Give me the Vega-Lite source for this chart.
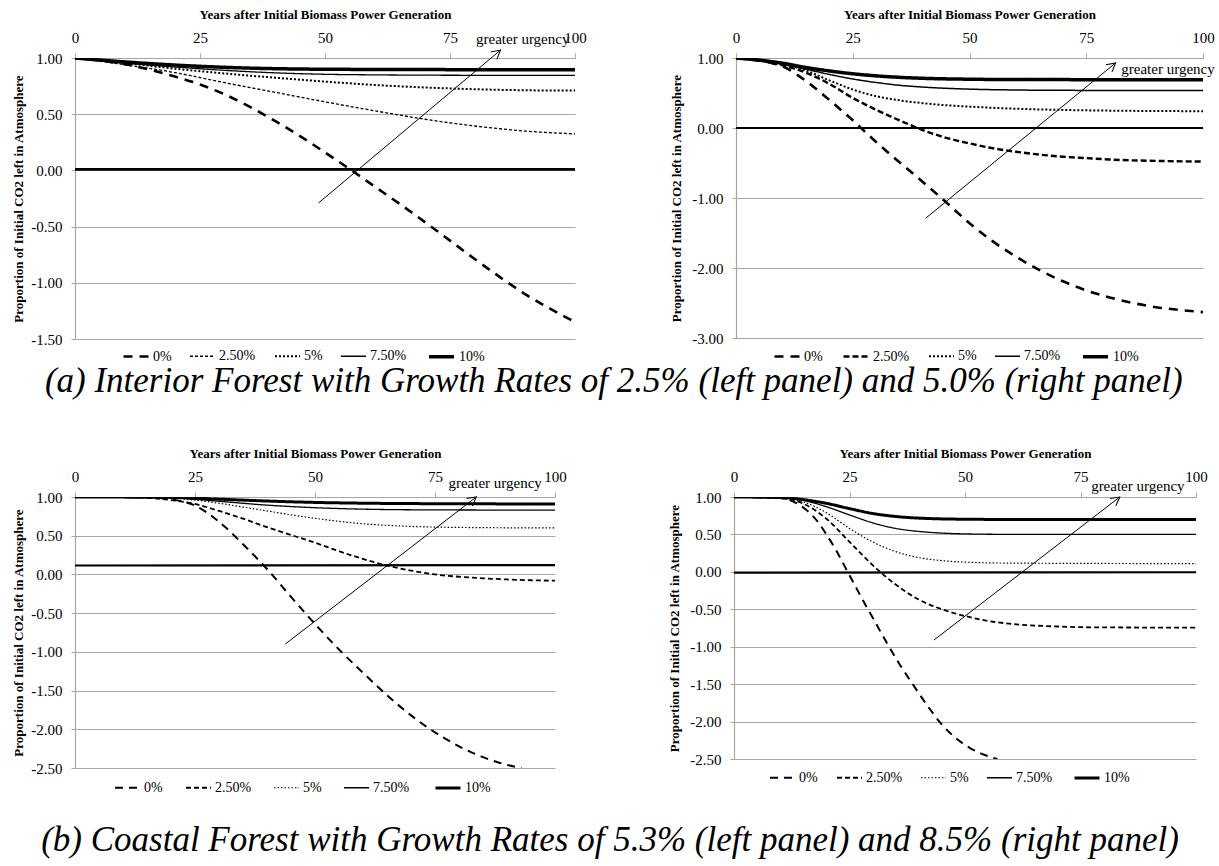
{
"$schema": "https://vega.github.io/schema/vega-lite/v6.json",
"background": "white",
"padding": {"left": 12, "top": 8, "right": 5, "bottom": 5},
"datasets": {
"curves": [
{"panel":"a1","rate":"0%","x":0,"y":1},{"panel":"a1","rate":"0%","x":5,"y":0.98},{"panel":"a1","rate":"0%","x":10,"y":0.945},{"panel":"a1","rate":"0%","x":15,"y":0.895},{"panel":"a1","rate":"0%","x":20,"y":0.835},{"panel":"a1","rate":"0%","x":25,"y":0.765},{"panel":"a1","rate":"0%","x":30,"y":0.675},{"panel":"a1","rate":"0%","x":35,"y":0.565},{"panel":"a1","rate":"0%","x":40,"y":0.44},{"panel":"a1","rate":"0%","x":45,"y":0.305},{"panel":"a1","rate":"0%","x":50,"y":0.16},{"panel":"a1","rate":"0%","x":55,"y":0.01},{"panel":"a1","rate":"0%","x":60,"y":-0.145},{"panel":"a1","rate":"0%","x":65,"y":-0.3},{"panel":"a1","rate":"0%","x":70,"y":-0.46},{"panel":"a1","rate":"0%","x":75,"y":-0.625},{"panel":"a1","rate":"0%","x":80,"y":-0.79},{"panel":"a1","rate":"0%","x":85,"y":-0.95},{"panel":"a1","rate":"0%","x":90,"y":-1.1},{"panel":"a1","rate":"0%","x":95,"y":-1.23},{"panel":"a1","rate":"0%","x":100,"y":-1.35},
{"panel":"a1","rate":"2.50%","x":0,"y":1},{"panel":"a1","rate":"2.50%","x":10,"y":0.94},{"panel":"a1","rate":"2.50%","x":20,"y":0.87},{"panel":"a1","rate":"2.50%","x":30,"y":0.78},{"panel":"a1","rate":"2.50%","x":40,"y":0.695},{"panel":"a1","rate":"2.50%","x":50,"y":0.61},{"panel":"a1","rate":"2.50%","x":60,"y":0.53},{"panel":"a1","rate":"2.50%","x":70,"y":0.455},{"panel":"a1","rate":"2.50%","x":80,"y":0.395},{"panel":"a1","rate":"2.50%","x":90,"y":0.35},{"panel":"a1","rate":"2.50%","x":100,"y":0.325},
{"panel":"a1","rate":"5%","x":0,"y":1},{"panel":"a1","rate":"5%","x":10,"y":0.955},{"panel":"a1","rate":"5%","x":20,"y":0.905},{"panel":"a1","rate":"5%","x":30,"y":0.862},{"panel":"a1","rate":"5%","x":40,"y":0.825},{"panel":"a1","rate":"5%","x":50,"y":0.79},{"panel":"a1","rate":"5%","x":60,"y":0.76},{"panel":"a1","rate":"5%","x":70,"y":0.738},{"panel":"a1","rate":"5%","x":80,"y":0.722},{"panel":"a1","rate":"5%","x":90,"y":0.713},{"panel":"a1","rate":"5%","x":100,"y":0.71},
{"panel":"a1","rate":"7.50%","x":0,"y":1},{"panel":"a1","rate":"7.50%","x":10,"y":0.955},{"panel":"a1","rate":"7.50%","x":20,"y":0.92},{"panel":"a1","rate":"7.50%","x":30,"y":0.89},{"panel":"a1","rate":"7.50%","x":40,"y":0.868},{"panel":"a1","rate":"7.50%","x":50,"y":0.855},{"panel":"a1","rate":"7.50%","x":60,"y":0.85},{"panel":"a1","rate":"7.50%","x":80,"y":0.846},{"panel":"a1","rate":"7.50%","x":100,"y":0.845},
{"panel":"a1","rate":"10%","x":0,"y":1},{"panel":"a1","rate":"10%","x":10,"y":0.965},{"panel":"a1","rate":"10%","x":20,"y":0.937},{"panel":"a1","rate":"10%","x":30,"y":0.917},{"panel":"a1","rate":"10%","x":40,"y":0.905},{"panel":"a1","rate":"10%","x":50,"y":0.9},{"panel":"a1","rate":"10%","x":70,"y":0.897},{"panel":"a1","rate":"10%","x":100,"y":0.895},

{"panel":"a2","rate":"0%","x":0,"y":1},{"panel":"a2","rate":"0%","x":5,"y":0.96},{"panel":"a2","rate":"0%","x":10,"y":0.88},{"panel":"a2","rate":"0%","x":15,"y":0.67},{"panel":"a2","rate":"0%","x":20,"y":0.4},{"panel":"a2","rate":"0%","x":25,"y":0.11},{"panel":"a2","rate":"0%","x":30,"y":-0.2},{"panel":"a2","rate":"0%","x":35,"y":-0.49},{"panel":"a2","rate":"0%","x":40,"y":-0.77},{"panel":"a2","rate":"0%","x":45,"y":-1.06},{"panel":"a2","rate":"0%","x":50,"y":-1.36},{"panel":"a2","rate":"0%","x":55,"y":-1.62},{"panel":"a2","rate":"0%","x":60,"y":-1.84},{"panel":"a2","rate":"0%","x":65,"y":-2.03},{"panel":"a2","rate":"0%","x":70,"y":-2.19},{"panel":"a2","rate":"0%","x":75,"y":-2.32},{"panel":"a2","rate":"0%","x":80,"y":-2.42},{"panel":"a2","rate":"0%","x":85,"y":-2.5},{"panel":"a2","rate":"0%","x":90,"y":-2.56},{"panel":"a2","rate":"0%","x":95,"y":-2.6},{"panel":"a2","rate":"0%","x":100,"y":-2.63},
{"panel":"a2","rate":"2.50%","x":0,"y":1},{"panel":"a2","rate":"2.50%","x":5,"y":0.965},{"panel":"a2","rate":"2.50%","x":10,"y":0.895},{"panel":"a2","rate":"2.50%","x":15,"y":0.79},{"panel":"a2","rate":"2.50%","x":20,"y":0.63},{"panel":"a2","rate":"2.50%","x":25,"y":0.43},{"panel":"a2","rate":"2.50%","x":30,"y":0.26},{"panel":"a2","rate":"2.50%","x":35,"y":0.11},{"panel":"a2","rate":"2.50%","x":40,"y":-0.03},{"panel":"a2","rate":"2.50%","x":45,"y":-0.14},{"panel":"a2","rate":"2.50%","x":50,"y":-0.22},{"panel":"a2","rate":"2.50%","x":55,"y":-0.29},{"panel":"a2","rate":"2.50%","x":60,"y":-0.34},{"panel":"a2","rate":"2.50%","x":65,"y":-0.38},{"panel":"a2","rate":"2.50%","x":70,"y":-0.41},{"panel":"a2","rate":"2.50%","x":75,"y":-0.43},{"panel":"a2","rate":"2.50%","x":80,"y":-0.45},{"panel":"a2","rate":"2.50%","x":90,"y":-0.47},{"panel":"a2","rate":"2.50%","x":100,"y":-0.48},
{"panel":"a2","rate":"5%","x":0,"y":1},{"panel":"a2","rate":"5%","x":5,"y":0.97},{"panel":"a2","rate":"5%","x":10,"y":0.915},{"panel":"a2","rate":"5%","x":15,"y":0.82},{"panel":"a2","rate":"5%","x":20,"y":0.68},{"panel":"a2","rate":"5%","x":25,"y":0.55},{"panel":"a2","rate":"5%","x":30,"y":0.455},{"panel":"a2","rate":"5%","x":35,"y":0.395},{"panel":"a2","rate":"5%","x":40,"y":0.355},{"panel":"a2","rate":"5%","x":45,"y":0.325},{"panel":"a2","rate":"5%","x":50,"y":0.305},{"panel":"a2","rate":"5%","x":60,"y":0.275},{"panel":"a2","rate":"5%","x":70,"y":0.258},{"panel":"a2","rate":"5%","x":80,"y":0.248},{"panel":"a2","rate":"5%","x":100,"y":0.24},
{"panel":"a2","rate":"7.50%","x":0,"y":1},{"panel":"a2","rate":"7.50%","x":5,"y":0.97},{"panel":"a2","rate":"7.50%","x":10,"y":0.91},{"panel":"a2","rate":"7.50%","x":15,"y":0.84},{"panel":"a2","rate":"7.50%","x":20,"y":0.765},{"panel":"a2","rate":"7.50%","x":25,"y":0.7},{"panel":"a2","rate":"7.50%","x":30,"y":0.65},{"panel":"a2","rate":"7.50%","x":35,"y":0.61},{"panel":"a2","rate":"7.50%","x":40,"y":0.585},{"panel":"a2","rate":"7.50%","x":50,"y":0.555},{"panel":"a2","rate":"7.50%","x":60,"y":0.543},{"panel":"a2","rate":"7.50%","x":70,"y":0.538},{"panel":"a2","rate":"7.50%","x":100,"y":0.535},
{"panel":"a2","rate":"10%","x":0,"y":1},{"panel":"a2","rate":"10%","x":5,"y":0.97},{"panel":"a2","rate":"10%","x":10,"y":0.925},{"panel":"a2","rate":"10%","x":15,"y":0.865},{"panel":"a2","rate":"10%","x":20,"y":0.815},{"panel":"a2","rate":"10%","x":25,"y":0.775},{"panel":"a2","rate":"10%","x":30,"y":0.745},{"panel":"a2","rate":"10%","x":35,"y":0.724},{"panel":"a2","rate":"10%","x":40,"y":0.71},{"panel":"a2","rate":"10%","x":50,"y":0.697},{"panel":"a2","rate":"10%","x":60,"y":0.692},{"panel":"a2","rate":"10%","x":100,"y":0.69},

{"panel":"b1","rate":"0%","x":0,"y":1},{"panel":"b1","rate":"0%","x":10,"y":1},{"panel":"b1","rate":"0%","x":15,"y":0.995},{"panel":"b1","rate":"0%","x":20,"y":0.97},{"panel":"b1","rate":"0%","x":25,"y":0.89},{"panel":"b1","rate":"0%","x":30,"y":0.68},{"panel":"b1","rate":"0%","x":35,"y":0.39},{"panel":"b1","rate":"0%","x":40,"y":0.07},{"panel":"b1","rate":"0%","x":45,"y":-0.29},{"panel":"b1","rate":"0%","x":50,"y":-0.64},{"panel":"b1","rate":"0%","x":55,"y":-0.97},{"panel":"b1","rate":"0%","x":60,"y":-1.27},{"panel":"b1","rate":"0%","x":65,"y":-1.56},{"panel":"b1","rate":"0%","x":70,"y":-1.82},{"panel":"b1","rate":"0%","x":75,"y":-2.04},{"panel":"b1","rate":"0%","x":80,"y":-2.22},{"panel":"b1","rate":"0%","x":85,"y":-2.36},{"panel":"b1","rate":"0%","x":90,"y":-2.46},{"panel":"b1","rate":"0%","x":93,"y":-2.5},
{"panel":"b1","rate":"2.50%","x":0,"y":1},{"panel":"b1","rate":"2.50%","x":10,"y":1},{"panel":"b1","rate":"2.50%","x":15,"y":0.99},{"panel":"b1","rate":"2.50%","x":20,"y":0.96},{"panel":"b1","rate":"2.50%","x":25,"y":0.91},{"panel":"b1","rate":"2.50%","x":30,"y":0.82},{"panel":"b1","rate":"2.50%","x":35,"y":0.72},{"panel":"b1","rate":"2.50%","x":40,"y":0.61},{"panel":"b1","rate":"2.50%","x":45,"y":0.51},{"panel":"b1","rate":"2.50%","x":50,"y":0.41},{"panel":"b1","rate":"2.50%","x":55,"y":0.3},{"panel":"b1","rate":"2.50%","x":60,"y":0.2},{"panel":"b1","rate":"2.50%","x":65,"y":0.115},{"panel":"b1","rate":"2.50%","x":70,"y":0.05},{"panel":"b1","rate":"2.50%","x":75,"y":0},{"panel":"b1","rate":"2.50%","x":80,"y":-0.03},{"panel":"b1","rate":"2.50%","x":85,"y":-0.05},{"panel":"b1","rate":"2.50%","x":90,"y":-0.065},{"panel":"b1","rate":"2.50%","x":95,"y":-0.075},{"panel":"b1","rate":"2.50%","x":100,"y":-0.08},
{"panel":"b1","rate":"5%","x":0,"y":1},{"panel":"b1","rate":"5%","x":15,"y":0.995},{"panel":"b1","rate":"5%","x":20,"y":0.985},{"panel":"b1","rate":"5%","x":25,"y":0.96},{"panel":"b1","rate":"5%","x":30,"y":0.92},{"panel":"b1","rate":"5%","x":35,"y":0.87},{"panel":"b1","rate":"5%","x":40,"y":0.82},{"panel":"b1","rate":"5%","x":45,"y":0.77},{"panel":"b1","rate":"5%","x":50,"y":0.725},{"panel":"b1","rate":"5%","x":55,"y":0.685},{"panel":"b1","rate":"5%","x":60,"y":0.655},{"panel":"b1","rate":"5%","x":70,"y":0.62},{"panel":"b1","rate":"5%","x":80,"y":0.607},{"panel":"b1","rate":"5%","x":100,"y":0.6},
{"panel":"b1","rate":"7.50%","x":0,"y":1},{"panel":"b1","rate":"7.50%","x":15,"y":0.997},{"panel":"b1","rate":"7.50%","x":20,"y":0.99},{"panel":"b1","rate":"7.50%","x":25,"y":0.97},{"panel":"b1","rate":"7.50%","x":30,"y":0.945},{"panel":"b1","rate":"7.50%","x":40,"y":0.895},{"panel":"b1","rate":"7.50%","x":50,"y":0.862},{"panel":"b1","rate":"7.50%","x":60,"y":0.843},{"panel":"b1","rate":"7.50%","x":70,"y":0.835},{"panel":"b1","rate":"7.50%","x":100,"y":0.83},
{"panel":"b1","rate":"10%","x":0,"y":1},{"panel":"b1","rate":"10%","x":20,"y":0.995},{"panel":"b1","rate":"10%","x":30,"y":0.972},{"panel":"b1","rate":"10%","x":40,"y":0.948},{"panel":"b1","rate":"10%","x":50,"y":0.93},{"panel":"b1","rate":"10%","x":60,"y":0.92},{"panel":"b1","rate":"10%","x":70,"y":0.915},{"panel":"b1","rate":"10%","x":100,"y":0.91},

{"panel":"b2","rate":"0%","x":0,"y":1},{"panel":"b2","rate":"0%","x":5,"y":1},{"panel":"b2","rate":"0%","x":10,"y":0.985},{"panel":"b2","rate":"0%","x":12,"y":0.96},{"panel":"b2","rate":"0%","x":14,"y":0.9},{"panel":"b2","rate":"0%","x":16,"y":0.81},{"panel":"b2","rate":"0%","x":18,"y":0.68},{"panel":"b2","rate":"0%","x":20,"y":0.5},{"panel":"b2","rate":"0%","x":22,"y":0.3},{"panel":"b2","rate":"0%","x":24,"y":0.07},{"panel":"b2","rate":"0%","x":26,"y":-0.16},{"panel":"b2","rate":"0%","x":28,"y":-0.39},{"panel":"b2","rate":"0%","x":30,"y":-0.61},{"panel":"b2","rate":"0%","x":33,"y":-0.94},{"panel":"b2","rate":"0%","x":36,"y":-1.25},{"panel":"b2","rate":"0%","x":39,"y":-1.53},{"panel":"b2","rate":"0%","x":42,"y":-1.8},{"panel":"b2","rate":"0%","x":45,"y":-2.04},{"panel":"b2","rate":"0%","x":48,"y":-2.22},{"panel":"b2","rate":"0%","x":51,"y":-2.35},{"panel":"b2","rate":"0%","x":54,"y":-2.44},{"panel":"b2","rate":"0%","x":57,"y":-2.5},
{"panel":"b2","rate":"2.50%","x":0,"y":1},{"panel":"b2","rate":"2.50%","x":10,"y":0.985},{"panel":"b2","rate":"2.50%","x":15,"y":0.91},{"panel":"b2","rate":"2.50%","x":20,"y":0.71},{"panel":"b2","rate":"2.50%","x":25,"y":0.4},{"panel":"b2","rate":"2.50%","x":30,"y":0.09},{"panel":"b2","rate":"2.50%","x":35,"y":-0.17},{"panel":"b2","rate":"2.50%","x":40,"y":-0.37},{"panel":"b2","rate":"2.50%","x":45,"y":-0.5},{"panel":"b2","rate":"2.50%","x":50,"y":-0.59},{"panel":"b2","rate":"2.50%","x":55,"y":-0.655},{"panel":"b2","rate":"2.50%","x":60,"y":-0.695},{"panel":"b2","rate":"2.50%","x":70,"y":-0.73},{"panel":"b2","rate":"2.50%","x":80,"y":-0.742},{"panel":"b2","rate":"2.50%","x":100,"y":-0.745},
{"panel":"b2","rate":"5%","x":0,"y":1},{"panel":"b2","rate":"5%","x":10,"y":0.988},{"panel":"b2","rate":"5%","x":15,"y":0.935},{"panel":"b2","rate":"5%","x":20,"y":0.79},{"panel":"b2","rate":"5%","x":25,"y":0.58},{"panel":"b2","rate":"5%","x":30,"y":0.4},{"panel":"b2","rate":"5%","x":35,"y":0.27},{"panel":"b2","rate":"5%","x":40,"y":0.19},{"panel":"b2","rate":"5%","x":45,"y":0.15},{"panel":"b2","rate":"5%","x":50,"y":0.13},{"panel":"b2","rate":"5%","x":60,"y":0.117},{"panel":"b2","rate":"5%","x":100,"y":0.11},
{"panel":"b2","rate":"7.50%","x":0,"y":1},{"panel":"b2","rate":"7.50%","x":10,"y":0.99},{"panel":"b2","rate":"7.50%","x":15,"y":0.955},{"panel":"b2","rate":"7.50%","x":20,"y":0.87},{"panel":"b2","rate":"7.50%","x":25,"y":0.76},{"panel":"b2","rate":"7.50%","x":30,"y":0.655},{"panel":"b2","rate":"7.50%","x":35,"y":0.58},{"panel":"b2","rate":"7.50%","x":40,"y":0.54},{"panel":"b2","rate":"7.50%","x":45,"y":0.518},{"panel":"b2","rate":"7.50%","x":50,"y":0.507},{"panel":"b2","rate":"7.50%","x":60,"y":0.501},{"panel":"b2","rate":"7.50%","x":100,"y":0.5},
{"panel":"b2","rate":"10%","x":0,"y":1},{"panel":"b2","rate":"10%","x":10,"y":0.993},{"panel":"b2","rate":"10%","x":15,"y":0.965},{"panel":"b2","rate":"10%","x":20,"y":0.915},{"panel":"b2","rate":"10%","x":25,"y":0.845},{"panel":"b2","rate":"10%","x":30,"y":0.78},{"panel":"b2","rate":"10%","x":35,"y":0.74},{"panel":"b2","rate":"10%","x":40,"y":0.718},{"panel":"b2","rate":"10%","x":50,"y":0.703},{"panel":"b2","rate":"10%","x":60,"y":0.7},{"panel":"b2","rate":"10%","x":100,"y":0.7}
],
"flat": [
{"panel":"a1","x":0,"y":0.01},{"panel":"a1","x":100,"y":0.01},
{"panel":"a2","x":0,"y":0},{"panel":"a2","x":100,"y":0},
{"panel":"b1","x":0,"y":0.115},{"panel":"b1","x":100,"y":0.12},
{"panel":"b2","x":0,"y":-0.01},{"panel":"b2","x":100,"y":-0.005}
],
"arrows": [
{"panel":"a1","x":48.7,"y":-0.29,"x2":85.1,"y2":1.07,"tx":80.2,"ty":1.17,"label":"greater urgency"},
{"panel":"a2","x":40.6,"y":-1.29,"x2":81.3,"y2":0.93,"tx":82.5,"ty":0.84,"label":"greater urgency"},
{"panel":"b1","x":43.8,"y":-0.9,"x2":83.6,"y2":1.0,"tx":77.8,"ty":1.18,"label":"greater urgency"},
{"panel":"b2","x":43.3,"y":-0.91,"x2":83.5,"y2":1.0,"tx":77.3,"ty":1.15,"label":"greater urgency"}
]
},
"columns": 1,
"align": "none",
"concat": [
{
"title": {"text": "(a) Interior Forest with Growth Rates of 2.5% (left panel) and 5.0% (right panel)", "orient": "bottom", "anchor": "middle", "offset": 0},
"spacing": 83,
"resolve": {"scale": {"strokeDash": "independent", "strokeWidth": "independent"}, "legend": {"strokeDash": "independent", "strokeWidth": "independent"}},
"hconcat": [
{
"width": 500, "height": 281,
"layer": [
{"data": {"name": "curves"}, "transform": [{"filter": "datum.panel === 'a1'"}],
 "mark": {"type": "line", "color": "black", "interpolate": "monotone", "clip": true},
 "encoding": {
  "x": {"field": "x", "type": "quantitative", "scale": {"domain": [0, 100], "nice": false}, "axis": {"orient": "top", "values": [0,25,50,75,100], "tickCount": 20, "title": "Years after Initial  Biomass Power Generation", "grid": false, "tickSize": 5, "labelPadding": 8, "titlePadding": 9, "labelFlush": false}},
  "y": {"field": "y", "type": "quantitative", "scale": {"domain": [-1.5, 1], "nice": false, "zero": false}, "axis": {"values": [-1.5,-1,-0.5,0,0.5,1], "tickCount": 20, "format": ".2f", "title": "Proportion of Initial  CO2 left in Atmosphere", "grid": true, "tickSize": 4, "labelPadding": 9, "titlePadding": 5, "labelOverlap": false}},
  "strokeDash": {"field": "rate", "type": "nominal", "scale": {"domain": ["0%","2.50%","5%","7.50%","10%"], "range": [[9,7],[3,2],[2,2],[1,0],[1,0]]}, "legend": {"title": null, "orient": "none", "legendX": 47, "legendY": 284}},
  "strokeWidth": {"field": "rate", "type": "nominal", "scale": {"type": "ordinal", "domain": ["0%","2.50%","5%","7.50%","10%"], "range": [2.6,1.3,2,1.3,3.5]}, "legend": {"title": null, "orient": "none", "legendX": 47, "legendY": 284}}
 }},
{"data": {"name": "flat"}, "transform": [{"filter": "datum.panel === 'a1'"}], "mark": {"type": "line", "color": "black", "strokeWidth": 2.8}, "encoding": {"x": {"field": "x", "type": "quantitative"}, "y": {"field": "y", "type": "quantitative"}}},
{"data": {"name": "arrows"}, "transform": [{"filter": "datum.panel === 'a1'"}], "mark": {"type": "rule", "color": "black", "strokeWidth": 1}, "encoding": {"x": {"field": "x", "type": "quantitative"}, "y": {"field": "y", "type": "quantitative"}, "x2": {"field": "x2"}, "y2": {"field": "y2"}}},
{"data": {"name": "arrows"}, "transform": [{"filter": "datum.panel === 'a1'"}], "mark": {"type": "point", "shape": "M -0.55 1 L 0 0 L 0.55 1", "angle": 50, "size": 300, "filled": false, "stroke": "black", "strokeWidth": 1, "opacity": 1}, "encoding": {"x": {"field": "x2", "type": "quantitative"}, "y": {"field": "y2", "type": "quantitative"}}},
{"data": {"name": "arrows"}, "transform": [{"filter": "datum.panel === 'a1'"}], "mark": {"type": "text", "align": "left", "baseline": "middle", "fontSize": 15, "font": "Liberation Serif", "color": "black"}, "encoding": {"x": {"field": "tx", "type": "quantitative"}, "y": {"field": "ty", "type": "quantitative"}, "text": {"field": "label"}}}
]
},
{
"width": 467, "height": 280,
"layer": [
{"data": {"name": "curves"}, "transform": [{"filter": "datum.panel === 'a2'"}],
 "mark": {"type": "line", "color": "black", "interpolate": "monotone", "clip": true},
 "encoding": {
  "x": {"field": "x", "type": "quantitative", "scale": {"domain": [0, 100], "nice": false}, "axis": {"orient": "top", "values": [0,25,50,75,100], "tickCount": 20, "title": "Years after Initial  Biomass Power Generation", "grid": false, "tickSize": 5, "labelPadding": 8, "titlePadding": 9, "labelFlush": false}},
  "y": {"field": "y", "type": "quantitative", "scale": {"domain": [-3, 1], "nice": false, "zero": false}, "axis": {"values": [-3,-2,-1,0,1], "tickCount": 20, "format": ".2f", "title": "Proportion of Initial  CO2 left in Atmosphere", "grid": true, "tickSize": 4, "labelPadding": 9, "titlePadding": 8, "labelOverlap": false}},
  "strokeDash": {"field": "rate", "type": "nominal", "scale": {"domain": ["0%","2.50%","5%","7.50%","10%"], "range": [[9,7],[6,3],[2,2],[1,0],[1,0]]}, "legend": {"title": null, "orient": "none", "legendX": 37, "legendY": 284}},
  "strokeWidth": {"field": "rate", "type": "nominal", "scale": {"type": "ordinal", "domain": ["0%","2.50%","5%","7.50%","10%"], "range": [2.6,2.4,2,1.5,3.5]}, "legend": {"title": null, "orient": "none", "legendX": 37, "legendY": 284}}
 }},
{"data": {"name": "flat"}, "transform": [{"filter": "datum.panel === 'a2'"}], "mark": {"type": "line", "color": "black", "strokeWidth": 2.2}, "encoding": {"x": {"field": "x", "type": "quantitative"}, "y": {"field": "y", "type": "quantitative"}}},
{"data": {"name": "arrows"}, "transform": [{"filter": "datum.panel === 'a2'"}], "mark": {"type": "rule", "color": "black", "strokeWidth": 1}, "encoding": {"x": {"field": "x", "type": "quantitative"}, "y": {"field": "y", "type": "quantitative"}, "x2": {"field": "x2"}, "y2": {"field": "y2"}}},
{"data": {"name": "arrows"}, "transform": [{"filter": "datum.panel === 'a2'"}], "mark": {"type": "point", "shape": "M -0.55 1 L 0 0 L 0.55 1", "angle": 51, "size": 300, "filled": false, "stroke": "black", "strokeWidth": 1, "opacity": 1}, "encoding": {"x": {"field": "x2", "type": "quantitative"}, "y": {"field": "y2", "type": "quantitative"}}},
{"data": {"name": "arrows"}, "transform": [{"filter": "datum.panel === 'a2'"}], "mark": {"type": "text", "align": "left", "baseline": "middle", "fontSize": 15, "font": "Liberation Serif", "color": "black"}, "encoding": {"x": {"field": "tx", "type": "quantitative"}, "y": {"field": "ty", "type": "quantitative"}, "text": {"field": "label"}}}
]
}
]
},
{
"title": {"text": "(b) Coastal Forest with Growth Rates of 5.3% (left panel) and 8.5% (right panel)", "orient": "bottom", "anchor": "middle", "offset": 28},
"spacing": 101,
"resolve": {"scale": {"strokeDash": "independent", "strokeWidth": "independent"}, "legend": {"strokeDash": "independent", "strokeWidth": "independent"}},
"hconcat": [
{
"width": 480, "height": 271,
"layer": [
{"data": {"name": "curves"}, "transform": [{"filter": "datum.panel === 'b1'"}],
 "mark": {"type": "line", "color": "black", "interpolate": "monotone", "clip": true},
 "encoding": {
  "x": {"field": "x", "type": "quantitative", "scale": {"domain": [0, 100], "nice": false}, "axis": {"orient": "top", "values": [0,25,50,75,100], "tickCount": 20, "title": "Years after Initial  Biomass Power Generation", "grid": false, "tickSize": 5, "labelPadding": 8, "titlePadding": 9, "labelFlush": false}},
  "y": {"field": "y", "type": "quantitative", "scale": {"domain": [-2.5, 1], "nice": false, "zero": false}, "axis": {"values": [-2.5,-2,-1.5,-1,-0.5,0,0.5,1], "tickCount": 20, "format": ".2f", "title": "Proportion of Initial  CO2 left in Atmosphere", "grid": true, "tickSize": 4, "labelPadding": 9, "titlePadding": 5, "labelOverlap": false}},
  "strokeDash": {"field": "rate", "type": "nominal", "scale": {"domain": ["0%","2.50%","5%","7.50%","10%"], "range": [[8,6],[5,3],[1.5,2],[1,0],[1,0]]}, "legend": {"title": null, "orient": "none", "legendX": 39, "legendY": 277, "columnPadding": 19}},
  "strokeWidth": {"field": "rate", "type": "nominal", "scale": {"type": "ordinal", "domain": ["0%","2.50%","5%","7.50%","10%"], "range": [2,1.8,1.2,1.3,3]}, "legend": {"title": null, "orient": "none", "legendX": 39, "legendY": 277, "columnPadding": 19}}
 }},
{"data": {"name": "flat"}, "transform": [{"filter": "datum.panel === 'b1'"}], "mark": {"type": "line", "color": "black", "strokeWidth": 2.2}, "encoding": {"x": {"field": "x", "type": "quantitative"}, "y": {"field": "y", "type": "quantitative"}}},
{"data": {"name": "arrows"}, "transform": [{"filter": "datum.panel === 'b1'"}], "mark": {"type": "rule", "color": "black", "strokeWidth": 1}, "encoding": {"x": {"field": "x", "type": "quantitative"}, "y": {"field": "y", "type": "quantitative"}, "x2": {"field": "x2"}, "y2": {"field": "y2"}}},
{"data": {"name": "arrows"}, "transform": [{"filter": "datum.panel === 'b1'"}], "mark": {"type": "point", "shape": "M -0.55 1 L 0 0 L 0.55 1", "angle": 52, "size": 300, "filled": false, "stroke": "black", "strokeWidth": 1, "opacity": 1}, "encoding": {"x": {"field": "x2", "type": "quantitative"}, "y": {"field": "y2", "type": "quantitative"}}},
{"data": {"name": "arrows"}, "transform": [{"filter": "datum.panel === 'b1'"}], "mark": {"type": "text", "align": "left", "baseline": "middle", "fontSize": 15, "font": "Liberation Serif", "color": "black"}, "encoding": {"x": {"field": "tx", "type": "quantitative"}, "y": {"field": "ty", "type": "quantitative"}, "text": {"field": "label"}}}
]
},
{
"width": 462, "height": 262,
"layer": [
{"data": {"name": "curves"}, "transform": [{"filter": "datum.panel === 'b2'"}],
 "mark": {"type": "line", "color": "black", "interpolate": "monotone", "clip": true},
 "encoding": {
  "x": {"field": "x", "type": "quantitative", "scale": {"domain": [0, 100], "nice": false}, "axis": {"orient": "top", "values": [0,25,50,75,100], "tickCount": 20, "title": "Years after Initial  Biomass Power Generation", "grid": false, "tickSize": 5, "labelPadding": 8, "titlePadding": 9, "labelFlush": false}},
  "y": {"field": "y", "type": "quantitative", "scale": {"domain": [-2.5, 1], "nice": false, "zero": false}, "axis": {"values": [-2.5,-2,-1.5,-1,-0.5,0,0.5,1], "tickCount": 20, "format": ".2f", "title": "Proportion of Initial  CO2 left in Atmosphere", "grid": true, "tickSize": 4, "labelPadding": 9, "titlePadding": 8, "labelOverlap": false}},
  "strokeDash": {"field": "rate", "type": "nominal", "scale": {"domain": ["0%","2.50%","5%","7.50%","10%"], "range": [[8,6],[5,3],[1.5,2],[1,0],[1,0]]}, "legend": {"title": null, "orient": "none", "legendX": 35, "legendY": 267}},
  "strokeWidth": {"field": "rate", "type": "nominal", "scale": {"type": "ordinal", "domain": ["0%","2.50%","5%","7.50%","10%"], "range": [2,1.8,1.2,1.3,3]}, "legend": {"title": null, "orient": "none", "legendX": 35, "legendY": 267}}
 }},
{"data": {"name": "flat"}, "transform": [{"filter": "datum.panel === 'b2'"}], "mark": {"type": "line", "color": "black", "strokeWidth": 2.2}, "encoding": {"x": {"field": "x", "type": "quantitative"}, "y": {"field": "y", "type": "quantitative"}}},
{"data": {"name": "arrows"}, "transform": [{"filter": "datum.panel === 'b2'"}], "mark": {"type": "rule", "color": "black", "strokeWidth": 1}, "encoding": {"x": {"field": "x", "type": "quantitative"}, "y": {"field": "y", "type": "quantitative"}, "x2": {"field": "x2"}, "y2": {"field": "y2"}}},
{"data": {"name": "arrows"}, "transform": [{"filter": "datum.panel === 'b2'"}], "mark": {"type": "point", "shape": "M -0.55 1 L 0 0 L 0.55 1", "angle": 53, "size": 300, "filled": false, "stroke": "black", "strokeWidth": 1, "opacity": 1}, "encoding": {"x": {"field": "x2", "type": "quantitative"}, "y": {"field": "y2", "type": "quantitative"}}},
{"data": {"name": "arrows"}, "transform": [{"filter": "datum.panel === 'b2'"}], "mark": {"type": "text", "align": "left", "baseline": "middle", "fontSize": 15, "font": "Liberation Serif", "color": "black"}, "encoding": {"x": {"field": "tx", "type": "quantitative"}, "y": {"field": "ty", "type": "quantitative"}, "text": {"field": "label"}}}
]
}
]
}
],
"spacing": 48,
"resolve": {"scale": {"strokeDash": "independent", "strokeWidth": "independent"}, "legend": {"strokeDash": "independent", "strokeWidth": "independent"}},
"config": {
 "font": "Liberation Serif",
 "view": {"stroke": null},
 "locale": {"number": {"decimal": ".", "thousands": ",", "grouping": [3], "currency": ["$", ""], "minus": "-"}},
 "axis": {"labelFont": "Liberation Serif", "labelFontSize": 15, "labelColor": "black", "titleFont": "Liberation Serif", "titleFontSize": 13, "titleFontWeight": "bold", "titleColor": "black", "domainColor": "#a6a6a6", "tickColor": "#a6a6a6", "gridColor": "#a6a6a6", "gridOpacity": 1, "domainWidth": 1.2},
 "legend": {"direction": "horizontal", "labelFont": "Liberation Serif", "labelFontSize": 14, "labelColor": "black", "symbolType": "stroke", "symbolSize": 625, "symbolStrokeColor": "black", "labelOffset": 3, "columnPadding": 15, "padding": 0},
 "title": {"font": "Liberation Serif", "fontSize": 35, "fontStyle": "italic", "fontWeight": "normal", "color": "black"}
}
}
